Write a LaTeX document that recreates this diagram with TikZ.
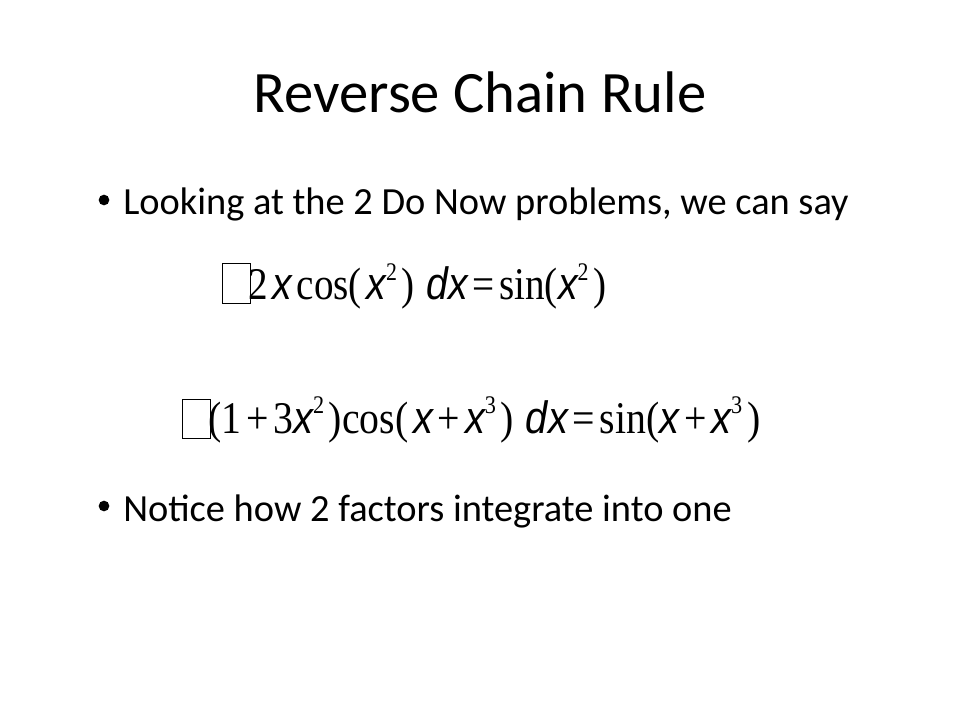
\documentclass[tikz,border=0pt]{standalone}
\usepackage{fontspec}
\usepackage{graphicx}
\setmainfont{Carlito}
\newfontfamily\tms{Liberation Serif}
\newfontfamily\ars{Liberation Sans}
\newcommand{\vx}{{\ars\itshape x}}
\newcommand{\sps}[1]{\raisebox{0.42em}{\fontsize{19}{19}\selectfont #1}}
\newcommand{\gsp}{\hspace{0.12em}}
\tikzset{
  txt/.style={inner sep=0pt, anchor=base west},
  eq/.style={inner sep=0pt, anchor=base west, font=\fontsize{34}{34}\selectfont\tms},
  glyphbox/.style={draw=black, line width=0.6pt},
  dot/.style={circle, fill=black, inner sep=0pt, minimum size=8pt}
}
\begin{document}
\begin{tikzpicture}[x=0.75pt,y=-0.75pt]
\useasboundingbox (0,0) rectangle (960,720);
\node[inner sep=0pt, anchor=base] (title) at (480,113) {\fontsize{44}{44}\selectfont Reverse Chain Rule};
\node[dot] (b1) at (104,200) {};
\node[txt, font=\fontsize{28.8}{28.8}\selectfont] (l1) at (123,215) {Looking at the 2 Do Now problems, we can say};
\draw[glyphbox] (222,263) rectangle (250,303);
\node[eq] (e1) at (248,300) {\resizebox{268.5pt}{\height}{2\gsp\vx\gsp cos(\gsp\vx\sps{2}\gsp)\hspace{0.3em}{\ars\itshape d}\vx\gsp=\gsp sin(\vx\sps{2}\gsp)}};
\draw[glyphbox] (182,399) rectangle (210,438);
\node[eq] (e2) at (208,433) {\resizebox{414pt}{\height}{(1\gsp+\gsp3\vx\sps{2}\gsp)cos(\gsp\vx\gsp+\gsp\vx\sps{3}\gsp)\hspace{0.3em}{\ars\itshape d}\vx\gsp=\gsp sin(\vx\gsp+\gsp\vx\sps{3}\gsp)}};
\node[dot] (b2) at (104,506) {};
\node[txt, font=\fontsize{28.8}{28.8}\selectfont] (l2) at (123,521) {Notice how 2 factors integrate into one};
\end{tikzpicture}
\end{document}
